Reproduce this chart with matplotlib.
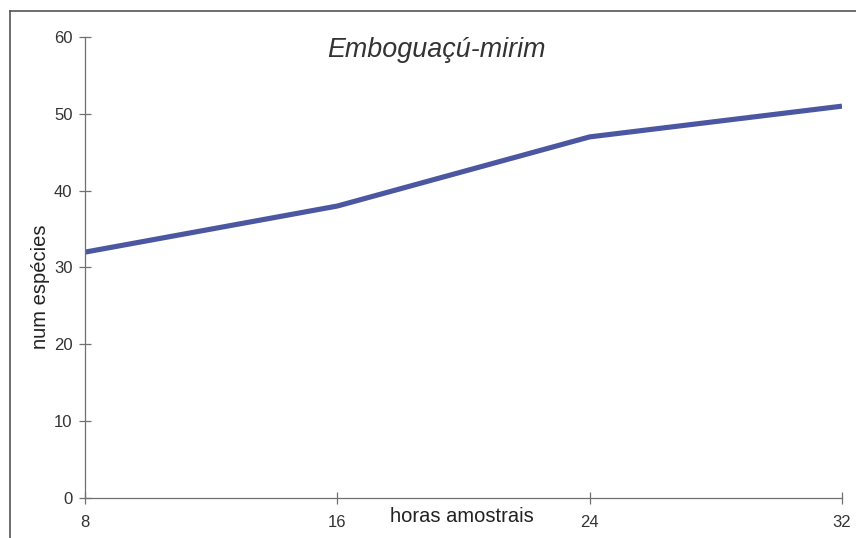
import matplotlib
matplotlib.use("Agg")
import matplotlib.pyplot as plt
from matplotlib.lines import Line2D

# dados
horas = [8, 16, 24, 32]
especies = [32, 38, 47, 51]
xticks = [8, 16, 24, 32]
yticks = [0, 10, 20, 30, 40, 50, 60]

plt.rcParams['font.family'] = ['Liberation Sans', 'DejaVu Sans']

fig = plt.figure(figsize=(8.56, 5.38), dpi=100)
ax = fig.add_axes([0.0993, 0.0744, 0.8843, 0.8568])

ax.plot(horas, especies, color='#4b57a0', lw=3.7, solid_joinstyle='round',
        solid_capstyle='butt')

ax.set_xlim(8, 32)
ax.set_ylim(0, 60)
ax.set_xticks(xticks)
ax.set_yticks(yticks)
ax.spines['top'].set_visible(False)
ax.spines['right'].set_visible(False)
for s in ['left', 'bottom']:
    ax.spines[s].set_color('#707070')
    ax.spines[s].set_linewidth(0.9)
ax.tick_params(direction='inout', length=8, width=0.9, color='#707070',
               labelsize=12, labelcolor='#333333')
ax.tick_params(axis='x', pad=8)
ax.tick_params(axis='y', pad=5)

# titulo e rotulos
fig.text(436/856, 1 - 50/538, 'Emboguaçú-mirim', fontsize=19.4, style='italic',
         color='#333333', ha='center', va='center')
fig.text(462/856, 1 - 517/538, 'horas amostrais', fontsize=14.5,
         color='#222222', ha='center', va='center')
fig.text(40/856, 1 - 287/538, 'num espécies', fontsize=14.5, rotation=90,
         color='#222222', ha='center', va='center')

# moldura
fig.add_artist(Line2D([10/856, 10/856], [0, 1 - 11/538], color='#555555', lw=1.2))
fig.add_artist(Line2D([10/856, 1], [1 - 11/538, 1 - 11/538], color='#555555', lw=1.2))

fig.savefig('out.png', dpi=100)
